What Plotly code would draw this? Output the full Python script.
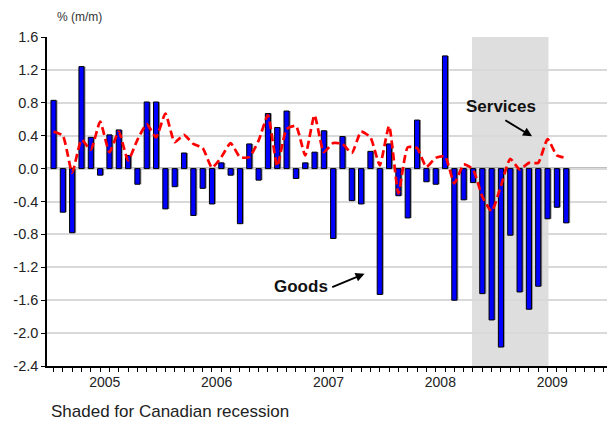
import plotly.graph_objects as go
import pandas as pd

# ---- data ----
months = [p.strftime("%Y-%m") for p in pd.period_range("2005-01", "2009-08", freq="M")]

goods = [0.83, -0.53, -0.78, 1.24, 0.38, -0.08, 0.41, 0.47, 0.16, -0.19, 0.81, 0.81,
         -0.49, -0.22, 0.19, -0.57, -0.24, -0.43, 0.07, -0.08, -0.67, 0.30, -0.14, 0.67,
         0.50, 0.70, -0.12, 0.07, 0.20, 0.46, -0.85, 0.39, -0.39, -0.43, 0.21, -1.53,
         0.30, -0.33, -0.60, 0.59, -0.16, -0.19, 1.37, -1.60, -0.38, -0.17, -1.52, -1.84,
         -2.17, -0.81, -1.50, -1.71, -1.43, -0.61, -0.47, -0.66]

services = [0.45, 0.40, -0.05, 0.35, 0.23, 0.57, 0.20, 0.45, 0.10, 0.35, 0.54, 0.38,
            0.67, 0.32, 0.41, 0.30, 0.25, 0.01, 0.14, 0.31, 0.14, 0.14, 0.34, 0.65,
            0.03, 0.48, 0.52, 0.16, 0.65, 0.20, 0.31, 0.30, 0.19, 0.45, 0.38, 0.04,
            0.52, -0.30, 0.26, 0.25, 0.02, 0.13, 0.15, -0.18, 0.05, -0.01, -0.34, -0.52,
            -0.21, 0.12, -0.01, 0.07, 0.07, 0.36, 0.16, 0.13]

year_labels = ["2005", "2006", "2007", "2008", "2009"]
y_ticks = [-2.4, -2.0, -1.6, -1.2, -0.8, -0.4, 0.0, 0.4, 0.8, 1.2, 1.6]
y_tick_text = [f"{v:.1f}" for v in y_ticks]
recession = ("2008-10", "2009-06")

# ---- derived positions ----
x = list(range(len(months)))
year_pos = [months.index(f"{y}-01") + 5.5 for y in year_labels]
rec_start = months.index(recession[0]) - 0.1
rec_end = months.index(recession[1]) + 0.1

FONT = "Liberation Sans, Arial, sans-serif"

fig = go.Figure()

# bar shadow
fig.add_trace(go.Bar(
    x=x, y=goods, width=0.55, offset=-0.275 + 0.15,
    marker=dict(color="#8c8c8c", line=dict(width=0)),
    hoverinfo="skip", showlegend=False))
# goods bars
fig.add_trace(go.Bar(
    x=x, y=goods, width=0.55, name="Goods",
    marker=dict(color="#0000ff", line=dict(color="black", width=1)),
    showlegend=False))
# services line
fig.add_trace(go.Scatter(
    x=x, y=services, mode="lines", name="Services",
    line=dict(color="#ff0000", width=2.7, dash="8px,4px", shape="spline", smoothing=0.5),
    showlegend=False))

# page body has an 8px margin, so the figure is sized to fit the 615x422 window
fig.update_layout(
    width=607, height=414,
    margin=dict(l=36, r=5, t=29, b=56),
    plot_bgcolor="white", paper_bgcolor="white",
    barmode="overlay", showlegend=False,
    font=dict(family=FONT, size=14, color="#222"),
    xaxis=dict(
        range=[-0.7, 59.7],
        tickmode="array", tickvals=year_pos, ticktext=year_labels,
        tickfont=dict(size=14),
        ticks="", showgrid=False, zeroline=False,
        showline=True, linecolor="black", linewidth=1.5,
        ticklabelstandoff=2,
        minor=dict(tickmode="linear", tick0=0, dtick=1, ticks="outside",
                   ticklen=4, tickwidth=1, tickcolor="black", showgrid=False),
    ),
    yaxis=dict(
        range=[-2.4, 1.6],
        tickmode="array", tickvals=y_ticks, ticktext=y_tick_text,
        tickfont=dict(size=14.5),
        ticks="outside", ticklen=4, tickwidth=1, tickcolor="black",
        showline=True, linecolor="black", linewidth=1.5,
        showgrid=True, gridcolor="#d9d9d9", gridwidth=1.5,
        zeroline=False,
    ),
    shapes=[
        dict(type="rect", xref="x", yref="paper", x0=rec_start, x1=rec_end, y0=0, y1=1,
             fillcolor="#dedede", line=dict(width=0), layer="between"),
        dict(type="line", xref="paper", yref="y", x0=0, x1=1, y0=0, y1=0,
             line=dict(color="black", width=1.5), layer="between"),
    ],
    annotations=[
        dict(text="% (m/m)", xref="paper", yref="paper", x=0.014, y=1.061,
             xanchor="left", yanchor="middle", showarrow=False,
             font=dict(size=12, color="#333")),
        dict(text="Shaded for Canadian recession", xref="paper", yref="paper",
             x=0.0035, y=-0.137, xanchor="left", yanchor="middle", showarrow=False,
             font=dict(size=17, color="#222")),
        dict(text="<b>Goods</b>", xref="x", yref="y", x=26.6, y=-1.43,
             showarrow=False, font=dict(size=17, color="#111")),
        dict(text="", xref="x", yref="y", x=33.37, y=-1.278,
             axref="x", ayref="y", ax=29.74, ay=-1.448,
             showarrow=True, arrowhead=2, arrowsize=1, arrowwidth=1.8, arrowcolor="black",
             standoff=0, startstandoff=0),
        dict(text="<b>Services</b>", xref="x", yref="y", x=47.96, y=0.753,
             showarrow=False, font=dict(size=17, color="#111")),
        dict(text="", xref="x", yref="y", x=51.34, y=0.392,
             axref="x", ayref="y", ax=48.31, ay=0.598,
             showarrow=True, arrowhead=2, arrowsize=1, arrowwidth=1.8, arrowcolor="black",
             standoff=0, startstandoff=0),
    ],
)

fig.write_html("out.html")
